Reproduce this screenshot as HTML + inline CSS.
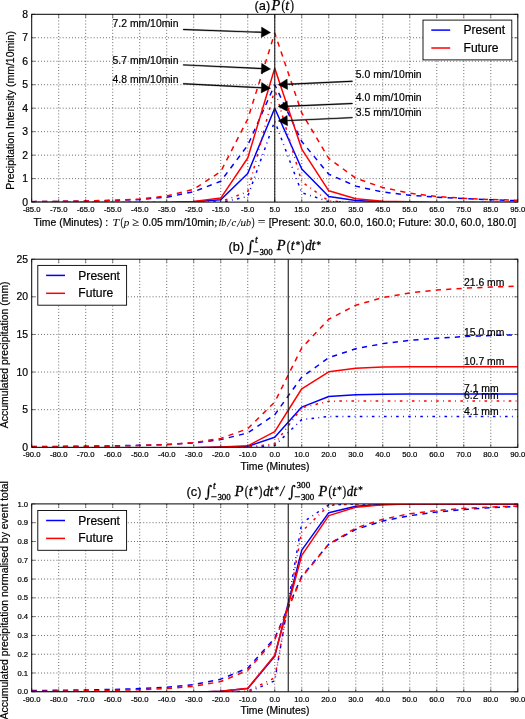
<!DOCTYPE html>
<html lang="en"><head><meta charset="utf-8"><title>Precipitation intensity: Present vs Future</title>
<style>html,body{margin:0;padding:0;background:#fff}svg{display:block}text{font-family:"Liberation Sans","DejaVu Sans",sans-serif;fill:#000;stroke:#000;stroke-width:0.2px}.m,.r,.d{stroke:#000;stroke-width:0.3px}.x .m,.x .r{stroke-width:0.1px;fill:#111}.m{font-family:"Liberation Serif","DejaVu Serif",serif;font-style:italic}.r{font-family:"Liberation Serif","DejaVu Serif",serif;font-style:normal}.d{font-family:"DejaVu Serif","Liberation Serif",serif;font-style:normal}</style></head><body>
<svg width="525" height="719" viewBox="0 0 525 719">
<rect x="0" y="0" width="525" height="719" fill="#ffffff"/>
<path d="M58.71 14.30V202.10M85.71 14.30V202.10M112.72 14.30V202.10M139.72 14.30V202.10M166.73 14.30V202.10M193.73 14.30V202.10M220.74 14.30V202.10M247.74 14.30V202.10M274.75 14.30V202.10M301.76 14.30V202.10M328.76 14.30V202.10M355.77 14.30V202.10M382.77 14.30V202.10M409.78 14.30V202.10M436.78 14.30V202.10M463.79 14.30V202.10M490.79 14.30V202.10M31.70 178.62H517.80M31.70 155.15H517.80M31.70 131.68H517.80M31.70 108.20H517.80M31.70 84.73H517.80M31.70 61.25H517.80M31.70 37.78H517.80" fill="none" stroke="#000" stroke-width="0.65" stroke-dasharray="0.9 2.2" />
<clipPath id="clipa"><rect x="31.7" y="14.3" width="486.10" height="187.80"/></clipPath>
<g clip-path="url(#clipa)" fill="none" stroke-width="1.5" stroke-linejoin="round">
<polyline points="31.70,202.60 58.71,202.60 85.71,202.60 112.72,202.60 139.72,202.60 166.73,202.60 193.73,201.63 220.74,199.75 247.74,173.46 274.75,108.20 301.76,169.00 328.76,196.47 355.77,200.46 382.77,201.63 409.78,202.60 436.78,202.60 463.79,202.60 490.79,202.60 517.80,202.60" stroke="#0000ff" />
<polyline points="31.70,202.60 58.71,202.60 85.71,202.60 112.72,202.60 139.72,202.60 166.73,202.60 193.73,202.60 220.74,202.60 247.74,196.47 274.75,121.11 301.76,192.71 328.76,201.63 355.77,202.60 382.77,202.60 409.78,202.60 436.78,202.60 463.79,202.60 490.79,202.60 517.80,202.60" stroke="#0000ff" stroke-dasharray="2.6 4.3 0.9 4.3"/>
<polyline points="31.70,201.63 58.71,201.40 85.71,201.16 112.72,200.46 139.72,199.52 166.73,197.17 193.73,191.77 220.74,181.21 247.74,145.29 274.75,84.73 301.76,141.53 328.76,174.16 355.77,186.14 382.77,192.01 409.78,195.29 436.78,197.17 463.79,198.58 490.79,199.75 517.80,200.69" stroke="#0000ff" stroke-dasharray="5.2 5.2"/>
<polyline points="31.70,202.60 58.71,202.60 85.71,202.60 112.72,202.60 139.72,202.60 166.73,202.60 193.73,201.40 220.74,198.11 247.74,157.97 274.75,68.29 301.76,149.05 328.76,190.83 355.77,198.81 382.77,201.16 409.78,201.87 436.78,202.60 463.79,202.60 490.79,202.60 517.80,202.60" stroke="#ff0000" />
<polyline points="31.70,202.60 58.71,202.60 85.71,202.60 112.72,202.60 139.72,202.60 166.73,202.60 193.73,202.60 220.74,201.63 247.74,191.77 274.75,89.42 301.76,181.91 328.76,200.93 355.77,202.60 382.77,202.60 409.78,202.60 436.78,202.60 463.79,202.60 490.79,202.60 517.80,202.60" stroke="#ff0000" stroke-dasharray="2.6 4.3 0.9 4.3"/>
<polyline points="31.70,201.63 58.71,201.40 85.71,200.93 112.72,200.22 139.72,199.05 166.73,196.00 193.73,189.19 220.74,171.58 247.74,119.00 274.75,33.08 301.76,112.90 328.76,158.44 355.77,178.16 382.77,187.55 409.78,193.18 436.78,196.47 463.79,198.34 490.79,199.52 517.80,200.22" stroke="#ff0000" stroke-dasharray="5.2 5.2"/>
<line x1="274.75" y1="14.3" x2="274.75" y2="202.1" stroke="#1a1a1a" stroke-width="1.1"/>
</g>
<path d="M31.70 202.10v-3.5M31.70 14.30v3.5M58.71 202.10v-3.5M58.71 14.30v3.5M85.71 202.10v-3.5M85.71 14.30v3.5M112.72 202.10v-3.5M112.72 14.30v3.5M139.72 202.10v-3.5M139.72 14.30v3.5M166.73 202.10v-3.5M166.73 14.30v3.5M193.73 202.10v-3.5M193.73 14.30v3.5M220.74 202.10v-3.5M220.74 14.30v3.5M247.74 202.10v-3.5M247.74 14.30v3.5M274.75 202.10v-3.5M274.75 14.30v3.5M301.76 202.10v-3.5M301.76 14.30v3.5M328.76 202.10v-3.5M328.76 14.30v3.5M355.77 202.10v-3.5M355.77 14.30v3.5M382.77 202.10v-3.5M382.77 14.30v3.5M409.78 202.10v-3.5M409.78 14.30v3.5M436.78 202.10v-3.5M436.78 14.30v3.5M463.79 202.10v-3.5M463.79 14.30v3.5M490.79 202.10v-3.5M490.79 14.30v3.5M517.80 202.10v-3.5M517.80 14.30v3.5M31.70 202.10h3.5M517.80 202.10h-3.5M31.70 178.62h3.5M517.80 178.62h-3.5M31.70 155.15h3.5M517.80 155.15h-3.5M31.70 131.68h3.5M517.80 131.68h-3.5M31.70 108.20h3.5M517.80 108.20h-3.5M31.70 84.73h3.5M517.80 84.73h-3.5M31.70 61.25h3.5M517.80 61.25h-3.5M31.70 37.78h3.5M517.80 37.78h-3.5M31.70 14.30h3.5M517.80 14.30h-3.5" fill="none" stroke="#000" stroke-width="0.5"/>
<rect x="31.7" y="14.3" width="486.10" height="187.80" fill="none" stroke="#000" stroke-width="1"/>
<g font-size="7.7" text-anchor="middle">
<text x="31.70" y="212.00">-85.0</text>
<text x="58.71" y="212.00">-75.0</text>
<text x="85.71" y="212.00">-65.0</text>
<text x="112.72" y="212.00">-55.0</text>
<text x="139.72" y="212.00">-45.0</text>
<text x="166.73" y="212.00">-35.0</text>
<text x="193.73" y="212.00">-25.0</text>
<text x="220.74" y="212.00">-15.0</text>
<text x="247.74" y="212.00">-5.0</text>
<text x="274.75" y="212.00">5.0</text>
<text x="301.76" y="212.00">15.0</text>
<text x="328.76" y="212.00">25.0</text>
<text x="355.77" y="212.00">35.0</text>
<text x="382.77" y="212.00">45.0</text>
<text x="409.78" y="212.00">55.0</text>
<text x="436.78" y="212.00">65.0</text>
<text x="463.79" y="212.00">75.0</text>
<text x="490.79" y="212.00">85.0</text>
<text x="517.80" y="212.00">95.0</text>
</g>
<g font-size="10.4" text-anchor="end">
<text x="28.10" y="205.64">0</text>
<text x="28.10" y="182.16">1</text>
<text x="28.10" y="158.69">2</text>
<text x="28.10" y="135.21">3</text>
<text x="28.10" y="111.74">4</text>
<text x="28.10" y="88.26">5</text>
<text x="28.10" y="64.79">6</text>
<text x="28.10" y="41.31">7</text>
<text x="28.10" y="17.84">8</text>
</g>
<text x="254.5" y="9.6" font-size="12.8">(a)</text>
<text class="m" font-size="13.6" transform="translate(271.47 9.60) scale(1.06 1)">P</text>
<text class="r" font-size="14.0" transform="translate(281.47 9.90) scale(0.78 1)">(</text>
<text x="285.36" y="9.60" class="m" font-size="14.0">t</text>
<text class="r" font-size="14.0" transform="translate(290.15 9.90) scale(0.78 1)">)</text>
<text transform="translate(13.6 110.4) rotate(-90)" text-anchor="middle" font-size="10.5">Precipitation Intensity (mm/10min)</text>
<text x="33.6" y="225.6" font-size="10.4">Time (Minutes) :</text>
<g class="x">
<text class="m" font-size="11.0" transform="translate(112.41 225.60) scale(1.08 1)">T</text>
<text class="r" font-size="11.6" transform="translate(120.45 225.80) scale(0.8 1)">(</text>
<text x="123.65" y="225.60" class="m" font-size="11.2">p</text>
<text class="r" font-size="11.6" transform="translate(132.20 225.60) scale(1.1 1)">≥</text>
<text x="214.36" y="225.60" class="r" font-size="11.0">;</text>
<text x="218.40" y="225.60" class="m" font-size="11.0">l</text>
<text class="m" font-size="11.0" transform="translate(221.34 225.60) scale(0.92 1)">b</text>
<text class="m" font-size="12.2" transform="translate(227.26 226.60) scale(0.95 1)">/</text>
<text class="m" font-size="11.2" transform="translate(231.53 225.60) scale(0.95 1)">c</text>
<text class="m" font-size="12.2" transform="translate(237.16 226.60) scale(0.95 1)">/</text>
<text x="240.57" y="225.60" class="m" font-size="11.2">u</text>
<text class="m" font-size="11.0" transform="translate(246.04 225.60) scale(0.92 1)">b</text>
<text class="r" font-size="11.6" transform="translate(251.46 225.80) scale(0.8 1)">)</text>
<text class="r" font-size="12.4" transform="translate(257.85 225.60) scale(1.1 1)">=</text>
</g>
<text x="142.5" y="225.6" font-size="10.4">0.05 mm/10min</text>
<text x="268.7" y="225.6" font-size="10.5">[Present: 30.0, 60.0, 160.0; Future: 30.0, 60.0, 180.0]</text>
<g font-size="10.4">
<text x="112.6" y="26.7">7.2 mm/10min</text>
<text x="112.6" y="63.7">5.7 mm/10min</text>
<text x="112.6" y="82.6">4.8 mm/10min</text>
<text x="355.8" y="78.4">5.0 mm/10min</text>
<text x="355.8" y="101.1">4.0 mm/10min</text>
<text x="355.8" y="115.5">3.5 mm/10min</text>
</g>
<polygon points="183.18,29.95 261.39,32.72 261.22,37.47 270.60,32.60 261.59,27.08 261.42,31.82 183.22,29.05" fill="#000" stroke="#000" stroke-width="0.4" stroke-linejoin="miter"/>
<polygon points="183.18,65.35 261.39,69.02 261.17,73.76 270.60,69.00 261.65,63.37 261.43,68.12 183.22,64.45" fill="#000" stroke="#000" stroke-width="0.4" stroke-linejoin="miter"/>
<polygon points="183.18,84.15 261.39,88.18 261.14,92.92 270.60,88.20 261.68,82.53 261.44,87.28 183.22,83.25" fill="#000" stroke="#000" stroke-width="0.4" stroke-linejoin="miter"/>
<polygon points="352.38,80.85 287.37,83.83 287.15,79.08 278.20,84.70 287.63,89.47 287.41,84.73 352.42,81.75" fill="#000" stroke="#000" stroke-width="0.4" stroke-linejoin="miter"/>
<polygon points="352.38,103.05 287.37,105.77 287.17,101.02 278.20,106.60 287.61,111.41 287.41,106.67 352.42,103.95" fill="#000" stroke="#000" stroke-width="0.4" stroke-linejoin="miter"/>
<polygon points="352.38,117.15 287.37,120.13 287.15,115.38 278.20,121.00 287.63,125.77 287.41,121.03 352.42,118.05" fill="#000" stroke="#000" stroke-width="0.4" stroke-linejoin="miter"/>
<rect x="423.0" y="20.1" width="88.8" height="39.8" fill="#fff" stroke="#000" stroke-width="0.9"/>
<line x1="431.3" y1="30.1" x2="450.2" y2="30.1" stroke="#0000ff" stroke-width="1.5"/>
<line x1="431.3" y1="48.0" x2="450.2" y2="48.0" stroke="#ff0000" stroke-width="1.5"/>
<text x="463.5" y="34.2" font-size="12.1">Present</text>
<text x="463.5" y="52.0" font-size="12.1">Future</text>
<path d="M58.71 259.20V447.30M85.71 259.20V447.30M112.72 259.20V447.30M139.72 259.20V447.30M166.73 259.20V447.30M193.73 259.20V447.30M220.74 259.20V447.30M247.74 259.20V447.30M274.75 259.20V447.30M301.76 259.20V447.30M328.76 259.20V447.30M355.77 259.20V447.30M382.77 259.20V447.30M409.78 259.20V447.30M436.78 259.20V447.30M463.79 259.20V447.30M490.79 259.20V447.30M31.70 409.68H517.80M31.70 372.06H517.80M31.70 334.44H517.80M31.70 296.82H517.80" fill="none" stroke="#000" stroke-width="0.65" stroke-dasharray="0.9 2.2" />
<clipPath id="clipb"><rect x="31.7" y="259.2" width="486.10" height="188.10"/></clipPath>
<g clip-path="url(#clipb)" fill="none" stroke-width="1.5" stroke-linejoin="round">
<polyline points="31.70,447.80 58.71,447.80 85.71,447.80 112.72,447.80 139.72,447.80 166.73,447.80 193.73,447.80 220.74,447.15 247.74,446.40 274.75,437.22 301.76,407.12 328.76,396.51 355.77,394.71 382.77,394.18 409.78,394.03 436.78,394.03 463.79,394.03 490.79,394.03 517.80,394.03" stroke="#0000ff" />
<polyline points="31.70,447.80 58.71,447.80 85.71,447.80 112.72,447.80 139.72,447.80 166.73,447.80 193.73,447.80 220.74,447.80 247.74,447.80 274.75,445.49 301.76,419.54 328.76,416.53 355.77,416.38 382.77,416.38 409.78,416.38 436.78,416.38 463.79,416.38 490.79,416.38 517.80,416.38" stroke="#0000ff" stroke-dasharray="2.6 4.3 0.9 4.3"/>
<polyline points="31.70,446.55 58.71,446.40 85.71,446.17 112.72,445.87 139.72,445.34 166.73,444.52 193.73,442.94 220.74,439.63 247.74,432.93 274.75,414.72 301.76,377.10 328.76,357.69 355.77,348.74 382.77,343.62 409.78,340.38 436.78,338.20 463.79,336.62 490.79,335.49 517.80,334.74" stroke="#0000ff" stroke-dasharray="5.2 5.2"/>
<polyline points="31.70,447.80 58.71,447.80 85.71,447.80 112.72,447.80 139.72,447.80 166.73,447.80 193.73,447.80 220.74,447.07 247.74,445.80 274.75,431.65 301.76,388.76 328.76,371.76 355.77,368.15 382.77,367.09 409.78,366.79 436.78,366.72 463.79,366.72 490.79,366.72 517.80,366.72" stroke="#ff0000" />
<polyline points="31.70,447.80 58.71,447.80 85.71,447.80 112.72,447.80 139.72,447.80 166.73,447.80 193.73,447.80 220.74,447.80 247.74,447.15 274.75,443.84 301.76,407.72 328.76,401.25 355.77,400.88 382.77,400.88 409.78,400.88 436.78,400.88 463.79,400.88 490.79,400.88 517.80,400.88" stroke="#ff0000" stroke-dasharray="2.6 4.3 0.9 4.3"/>
<polyline points="31.70,446.85 58.71,446.70 85.71,446.47 112.72,446.10 139.72,445.49 166.73,444.52 193.73,442.56 220.74,438.42 247.74,428.64 274.75,402.01 301.76,347.83 328.76,319.24 355.77,305.25 382.77,297.57 409.78,292.91 436.78,290.05 463.79,288.24 490.79,287.04 517.80,286.21" stroke="#ff0000" stroke-dasharray="5.2 5.2"/>
<line x1="288.25" y1="259.2" x2="288.25" y2="447.3" stroke="#1a1a1a" stroke-width="1.1"/>
</g>
<path d="M31.70 447.30v-3.5M31.70 259.20v3.5M58.71 447.30v-3.5M58.71 259.20v3.5M85.71 447.30v-3.5M85.71 259.20v3.5M112.72 447.30v-3.5M112.72 259.20v3.5M139.72 447.30v-3.5M139.72 259.20v3.5M166.73 447.30v-3.5M166.73 259.20v3.5M193.73 447.30v-3.5M193.73 259.20v3.5M220.74 447.30v-3.5M220.74 259.20v3.5M247.74 447.30v-3.5M247.74 259.20v3.5M274.75 447.30v-3.5M274.75 259.20v3.5M301.76 447.30v-3.5M301.76 259.20v3.5M328.76 447.30v-3.5M328.76 259.20v3.5M355.77 447.30v-3.5M355.77 259.20v3.5M382.77 447.30v-3.5M382.77 259.20v3.5M409.78 447.30v-3.5M409.78 259.20v3.5M436.78 447.30v-3.5M436.78 259.20v3.5M463.79 447.30v-3.5M463.79 259.20v3.5M490.79 447.30v-3.5M490.79 259.20v3.5M517.80 447.30v-3.5M517.80 259.20v3.5M31.70 447.30h3.5M517.80 447.30h-3.5M31.70 409.68h3.5M517.80 409.68h-3.5M31.70 372.06h3.5M517.80 372.06h-3.5M31.70 334.44h3.5M517.80 334.44h-3.5M31.70 296.82h3.5M517.80 296.82h-3.5M31.70 259.20h3.5M517.80 259.20h-3.5" fill="none" stroke="#000" stroke-width="0.5"/>
<rect x="31.7" y="259.2" width="486.10" height="188.10" fill="none" stroke="#000" stroke-width="1"/>
<g font-size="7.7" text-anchor="middle">
<text x="31.70" y="457.20">-90.0</text>
<text x="58.71" y="457.20">-80.0</text>
<text x="85.71" y="457.20">-70.0</text>
<text x="112.72" y="457.20">-60.0</text>
<text x="139.72" y="457.20">-50.0</text>
<text x="166.73" y="457.20">-40.0</text>
<text x="193.73" y="457.20">-30.0</text>
<text x="220.74" y="457.20">-20.0</text>
<text x="247.74" y="457.20">-10.0</text>
<text x="274.75" y="457.20">0.0</text>
<text x="301.76" y="457.20">10.0</text>
<text x="328.76" y="457.20">20.0</text>
<text x="355.77" y="457.20">30.0</text>
<text x="382.77" y="457.20">40.0</text>
<text x="409.78" y="457.20">50.0</text>
<text x="436.78" y="457.20">60.0</text>
<text x="463.79" y="457.20">70.0</text>
<text x="490.79" y="457.20">80.0</text>
<text x="517.80" y="457.20">90.0</text>
</g>
<g font-size="10.4" text-anchor="end">
<text x="28.10" y="450.84">0</text>
<text x="28.10" y="413.22">5</text>
<text x="28.10" y="375.60">10</text>
<text x="28.10" y="337.98">15</text>
<text x="28.10" y="300.36">20</text>
<text x="28.10" y="262.74">25</text>
</g>
<text transform="translate(8.1 354.8) rotate(-90)" text-anchor="middle" font-size="10.45">Accumulated precipitation (mm)</text>
<text x="275" y="469.8" text-anchor="middle" font-size="10.4">Time (Minutes)</text>
<g font-size="10.4">
<text x="464.0" y="286.2">21.6 mm</text>
<text x="464.0" y="335.5">15.0 mm</text>
<text x="464.0" y="365.1">10.7 mm</text>
<text x="464.0" y="392.1">7.1 mm</text>
<text x="464.0" y="399.4">6.2 mm</text>
<text x="464.0" y="415.1">4.1 mm</text>
</g>
<rect x="37.8" y="265.4" width="88.8" height="39.8" fill="#fff" stroke="#000" stroke-width="0.9"/>
<line x1="46.1" y1="275.4" x2="65.0" y2="275.4" stroke="#0000ff" stroke-width="1.5"/>
<line x1="46.1" y1="293.3" x2="65.0" y2="293.3" stroke="#ff0000" stroke-width="1.5"/>
<text x="78.3" y="279.5" font-size="12.1">Present</text>
<text x="78.3" y="297.3" font-size="12.1">Future</text>
<text x="228.4" y="250.5" font-size="12.8">(b)</text>
<text class="d" font-size="16.0" transform="translate(246.74 251.60) scale(0.88 1)">∫</text>
<text x="254.88" y="243.40" class="m" font-size="9.8">t</text>
<text class="r" font-size="9.4" transform="translate(252.80 254.80) scale(1.15 1)">−</text>
<text class="r" font-size="9.2" transform="translate(259.41 254.80) scale(0.97 1)">300</text>
<text class="m" font-size="13.6" transform="translate(276.77 250.40) scale(1.06 1)">P</text>
<text class="r" font-size="14.0" transform="translate(286.77 250.70) scale(0.78 1)">(</text>
<text x="290.66" y="250.40" class="m" font-size="14.0">t</text>
<text x="295.15" y="246.00" class="d" font-size="8.4">∗</text>
<text class="r" font-size="14.0" transform="translate(300.80 250.70) scale(0.78 1)">)</text>
<text class="m" font-size="13.6" transform="translate(305.17 250.40) scale(0.96 1)">d</text>
<text x="311.61" y="250.40" class="m" font-size="14.0">t</text>
<text x="316.10" y="246.00" class="d" font-size="8.4">∗</text>
<path d="M58.71 503.90V691.80M85.71 503.90V691.80M112.72 503.90V691.80M139.72 503.90V691.80M166.73 503.90V691.80M193.73 503.90V691.80M220.74 503.90V691.80M247.74 503.90V691.80M274.75 503.90V691.80M301.76 503.90V691.80M328.76 503.90V691.80M355.77 503.90V691.80M382.77 503.90V691.80M409.78 503.90V691.80M436.78 503.90V691.80M463.79 503.90V691.80M490.79 503.90V691.80M31.70 673.01H517.80M31.70 654.22H517.80M31.70 635.43H517.80M31.70 616.64H517.80M31.70 597.85H517.80M31.70 579.06H517.80M31.70 560.27H517.80M31.70 541.48H517.80M31.70 522.69H517.80" fill="none" stroke="#000" stroke-width="0.65" stroke-dasharray="0.9 2.2" />
<clipPath id="clipc"><rect x="31.7" y="503.9" width="486.10" height="187.90"/></clipPath>
<g clip-path="url(#clipc)" fill="none" stroke-width="1.5" stroke-linejoin="round">
<polyline points="31.70,692.30 58.71,692.30 85.71,692.30 112.72,692.30 139.72,692.30 166.73,692.30 193.73,692.30 220.74,691.27 247.74,688.62 274.75,656.24 301.76,550.08 328.76,512.66 355.77,506.29 382.77,504.43 409.78,503.90 436.78,503.90 463.79,503.90 490.79,503.90 517.80,503.90" stroke="#0000ff" />
<polyline points="31.70,692.30 58.71,692.30 85.71,692.30 112.72,692.30 139.72,692.30 166.73,692.30 193.73,692.30 220.74,692.30 247.74,692.30 274.75,680.83 301.76,523.10 328.76,504.81 355.77,503.90 382.77,503.90 409.78,503.90 436.78,503.90 463.79,503.90 490.79,503.90 517.80,503.90" stroke="#0000ff" stroke-dasharray="2.6 4.3 0.9 4.3"/>
<polyline points="31.70,690.56 58.71,690.31 85.71,689.94 112.72,689.45 139.72,688.58 166.73,687.21 193.73,684.61 220.74,679.16 247.74,668.13 274.75,638.13 301.76,576.16 328.76,544.18 355.77,529.43 382.77,521.00 409.78,515.67 436.78,512.08 463.79,509.48 490.79,507.62 517.80,506.38" stroke="#0000ff" stroke-dasharray="5.2 5.2"/>
<polyline points="31.70,692.30 58.71,692.30 85.71,692.30 112.72,692.30 139.72,692.30 166.73,692.30 193.73,692.30 220.74,691.27 247.74,688.29 274.75,655.31 301.76,555.30 328.76,515.65 355.77,507.23 382.77,504.78 409.78,504.08 436.78,503.90 463.79,503.90 490.79,503.90 517.80,503.90" stroke="#ff0000" />
<polyline points="31.70,692.30 58.71,692.30 85.71,692.30 112.72,692.30 139.72,692.30 166.73,692.30 193.73,692.30 220.74,692.30 247.74,691.19 274.75,677.79 301.76,531.61 328.76,505.42 355.77,503.90 382.77,503.90 409.78,503.90 436.78,503.90 463.79,503.90 490.79,503.90 517.80,503.90" stroke="#ff0000" stroke-dasharray="2.6 4.3 0.9 4.3"/>
<polyline points="31.70,691.28 58.71,691.11 85.71,690.85 112.72,690.41 139.72,689.72 166.73,688.59 193.73,686.33 220.74,681.56 247.74,670.29 274.75,639.58 301.76,577.12 328.76,544.15 355.77,528.02 382.77,519.17 409.78,513.79 436.78,510.49 463.79,508.41 490.79,507.02 517.80,506.07" stroke="#ff0000" stroke-dasharray="5.2 5.2"/>
<line x1="288.25" y1="503.9" x2="288.25" y2="691.8" stroke="#1a1a1a" stroke-width="1.1"/>
</g>
<path d="M31.70 691.80v-3.5M31.70 503.90v3.5M58.71 691.80v-3.5M58.71 503.90v3.5M85.71 691.80v-3.5M85.71 503.90v3.5M112.72 691.80v-3.5M112.72 503.90v3.5M139.72 691.80v-3.5M139.72 503.90v3.5M166.73 691.80v-3.5M166.73 503.90v3.5M193.73 691.80v-3.5M193.73 503.90v3.5M220.74 691.80v-3.5M220.74 503.90v3.5M247.74 691.80v-3.5M247.74 503.90v3.5M274.75 691.80v-3.5M274.75 503.90v3.5M301.76 691.80v-3.5M301.76 503.90v3.5M328.76 691.80v-3.5M328.76 503.90v3.5M355.77 691.80v-3.5M355.77 503.90v3.5M382.77 691.80v-3.5M382.77 503.90v3.5M409.78 691.80v-3.5M409.78 503.90v3.5M436.78 691.80v-3.5M436.78 503.90v3.5M463.79 691.80v-3.5M463.79 503.90v3.5M490.79 691.80v-3.5M490.79 503.90v3.5M517.80 691.80v-3.5M517.80 503.90v3.5M31.70 691.80h3.5M517.80 691.80h-3.5M31.70 673.01h3.5M517.80 673.01h-3.5M31.70 654.22h3.5M517.80 654.22h-3.5M31.70 635.43h3.5M517.80 635.43h-3.5M31.70 616.64h3.5M517.80 616.64h-3.5M31.70 597.85h3.5M517.80 597.85h-3.5M31.70 579.06h3.5M517.80 579.06h-3.5M31.70 560.27h3.5M517.80 560.27h-3.5M31.70 541.48h3.5M517.80 541.48h-3.5M31.70 522.69h3.5M517.80 522.69h-3.5M31.70 503.90h3.5M517.80 503.90h-3.5" fill="none" stroke="#000" stroke-width="0.5"/>
<rect x="31.7" y="503.9" width="486.10" height="187.90" fill="none" stroke="#000" stroke-width="1"/>
<g font-size="7.7" text-anchor="middle">
<text x="31.70" y="701.70">-90.0</text>
<text x="58.71" y="701.70">-80.0</text>
<text x="85.71" y="701.70">-70.0</text>
<text x="112.72" y="701.70">-60.0</text>
<text x="139.72" y="701.70">-50.0</text>
<text x="166.73" y="701.70">-40.0</text>
<text x="193.73" y="701.70">-30.0</text>
<text x="220.74" y="701.70">-20.0</text>
<text x="247.74" y="701.70">-10.0</text>
<text x="274.75" y="701.70">0.0</text>
<text x="301.76" y="701.70">10.0</text>
<text x="328.76" y="701.70">20.0</text>
<text x="355.77" y="701.70">30.0</text>
<text x="382.77" y="701.70">40.0</text>
<text x="409.78" y="701.70">50.0</text>
<text x="436.78" y="701.70">60.0</text>
<text x="463.79" y="701.70">70.0</text>
<text x="490.79" y="701.70">80.0</text>
<text x="517.80" y="701.70">90.0</text>
</g>
<g font-size="7.7" text-anchor="end">
<text x="28.10" y="694.42">0.0</text>
<text x="28.10" y="675.63">0.1</text>
<text x="28.10" y="656.84">0.2</text>
<text x="28.10" y="638.05">0.3</text>
<text x="28.10" y="619.26">0.4</text>
<text x="28.10" y="600.47">0.5</text>
<text x="28.10" y="581.68">0.6</text>
<text x="28.10" y="562.89">0.7</text>
<text x="28.10" y="544.10">0.8</text>
<text x="28.10" y="525.31">0.9</text>
<text x="28.10" y="506.52">1.0</text>
</g>
<text transform="translate(7.9 600.3) rotate(-90)" text-anchor="middle" font-size="10.45">Accumulated precipitation normalised by event total</text>
<text x="275" y="714.4" text-anchor="middle" font-size="10.4">Time (Minutes)</text>
<rect x="37.8" y="510.5" width="88.8" height="39.8" fill="#fff" stroke="#000" stroke-width="0.9"/>
<line x1="46.1" y1="520.5" x2="65.0" y2="520.5" stroke="#0000ff" stroke-width="1.5"/>
<line x1="46.1" y1="538.4" x2="65.0" y2="538.4" stroke="#ff0000" stroke-width="1.5"/>
<text x="78.3" y="524.6" font-size="12.1">Present</text>
<text x="78.3" y="542.4" font-size="12.1">Future</text>
<text x="186.6" y="495.6" font-size="12.8">(c)</text>
<text class="d" font-size="16.0" transform="translate(204.74 496.70) scale(0.88 1)">∫</text>
<text x="212.88" y="488.50" class="m" font-size="9.8">t</text>
<text class="r" font-size="9.4" transform="translate(210.80 499.90) scale(1.15 1)">−</text>
<text class="r" font-size="9.2" transform="translate(217.41 499.90) scale(0.97 1)">300</text>
<text class="m" font-size="13.6" transform="translate(234.77 495.50) scale(1.06 1)">P</text>
<text class="r" font-size="14.0" transform="translate(244.77 495.80) scale(0.78 1)">(</text>
<text x="248.66" y="495.50" class="m" font-size="14.0">t</text>
<text x="253.15" y="491.10" class="d" font-size="8.4">∗</text>
<text class="r" font-size="14.0" transform="translate(258.80 495.80) scale(0.78 1)">)</text>
<text class="m" font-size="13.6" transform="translate(263.17 495.50) scale(0.96 1)">d</text>
<text x="269.61" y="495.50" class="m" font-size="14.0">t</text>
<text x="274.10" y="491.10" class="d" font-size="8.4">∗</text>
<text class="m" font-size="14.6" transform="translate(280.26 496.40) scale(0.95 1)">/</text>
<text class="d" font-size="16.0" transform="translate(288.24 496.70) scale(0.88 1)">∫</text>
<text class="r" font-size="9.2" transform="translate(296.57 488.30) scale(0.99 1)">300</text>
<text class="r" font-size="9.4" transform="translate(294.30 499.90) scale(1.15 1)">−</text>
<text class="r" font-size="9.2" transform="translate(300.91 499.90) scale(0.97 1)">300</text>
<text class="m" font-size="13.6" transform="translate(318.47 495.50) scale(1.06 1)">P</text>
<text class="r" font-size="14.0" transform="translate(328.47 495.80) scale(0.78 1)">(</text>
<text x="332.36" y="495.50" class="m" font-size="14.0">t</text>
<text x="336.85" y="491.10" class="d" font-size="8.4">∗</text>
<text class="r" font-size="14.0" transform="translate(342.50 495.80) scale(0.78 1)">)</text>
<text class="m" font-size="13.6" transform="translate(346.87 495.50) scale(0.96 1)">d</text>
<text x="353.31" y="495.50" class="m" font-size="14.0">t</text>
<text x="357.80" y="491.10" class="d" font-size="8.4">∗</text>
</svg>
</body></html>
